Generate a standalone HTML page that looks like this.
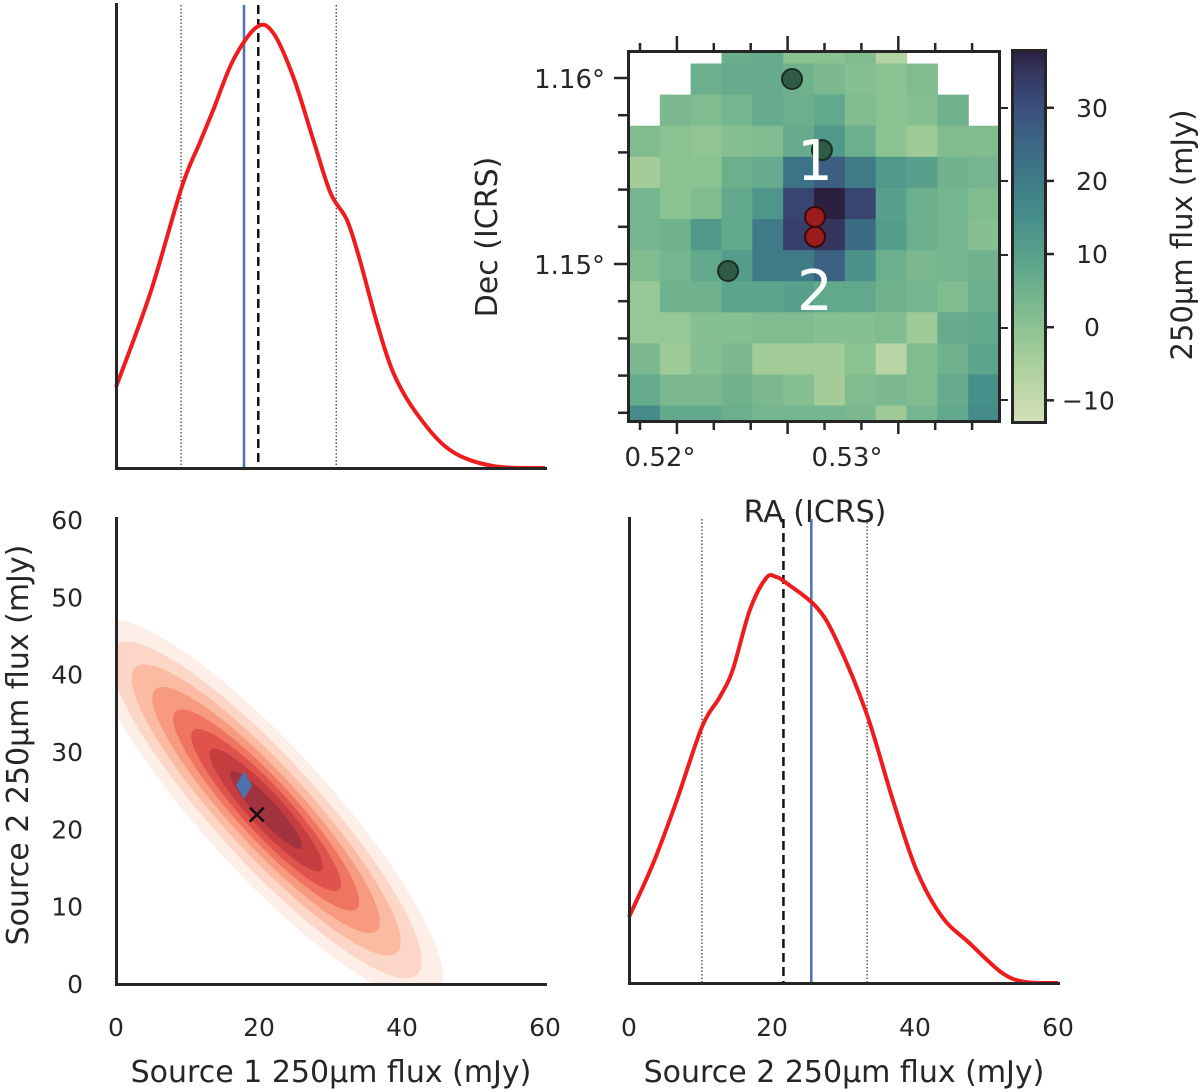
<!DOCTYPE html>
<html><head><meta charset="utf-8"><style>
html,body{margin:0;padding:0;background:#fff;}
svg{display:block;font-family:"DejaVu Sans","Liberation Sans",sans-serif;}
</style></head><body>
<svg id="fig" width="1200" height="1092" viewBox="0 0 1200 1092" xmlns="http://www.w3.org/2000/svg">
<defs>
<clipPath id="mapclip"><rect x="629" y="52" width="370" height="369"/></clipPath>
<clipPath id="kdeclip"><rect x="117" y="519" width="430" height="464"/></clipPath>
<linearGradient id="cbgrad" x1="0" y1="1" x2="0" y2="0">
<stop offset="0" stop-color="#d4e0b8"/><stop offset="0.16" stop-color="#a9cf9b"/><stop offset="0.255" stop-color="#8cc292"/><stop offset="0.35" stop-color="#71b38e"/><stop offset="0.45" stop-color="#58a18b"/><stop offset="0.55" stop-color="#478f8a"/><stop offset="0.65" stop-color="#3e7b87"/><stop offset="0.75" stop-color="#3c6684"/><stop offset="0.85" stop-color="#3b4f7c"/><stop offset="0.94" stop-color="#35365f"/><stop offset="1" stop-color="#2c1f3f"/>
</linearGradient>
</defs>
<g id="g-top"></g>
<g id="g-map"></g>
<g id="g-kde"></g>
<g id="g-br"></g>
</svg>
<script>
// ---- data ----
const s1X = [0, 4.8, 9.2, 11.7, 13.6, 16.4, 19.7, 22, 24.8, 27.6, 30, 32.3, 34.1, 36.5, 38.8, 42, 46.7, 52.7, 60];
const s1Density = [81, 175, 281, 325, 358, 408, 441, 435, 391, 328, 275, 248, 208, 145, 95, 55, 18, 2, 0];
const s1Lines = {truth: 17.9, median: 19.9, lo: 9.1, hi: 30.8};
const s2X = [0, 3.4, 6.7, 10.2, 12.7, 14.5, 16.9, 19.2, 20.6, 22, 26.2, 29, 33.2, 36.9, 40.2, 43.8, 47.6, 52.2, 55.5, 60];
const s2Density = [66, 120, 183, 256, 286, 313, 373, 405, 406, 400, 376, 343, 270, 183, 113, 66, 40, 10, 1, 0];
const s2Lines = {truth: 25.5, median: 21.6, lo: 10.2, hi: 33.3};
const fluxTicks = [0, 20, 40, 60];
const yTicks = [0, 10, 20, 30, 40, 50, 60];
const kdeCenter = [21, 22.5];
const kdeSemiMajor = [34, 30, 26, 22, 18, 14.5, 11, 7];
const kdeSemiMinor = [8.5, 7, 5.8, 4.8, 3.9, 3.1, 2.3, 1.4];
const kdeColors = ['#fdeee8', '#fcd7c7', '#fbbba3', '#f79a80', '#f07561', '#e0534c', '#c63d40', '#a2323d'];
const truthPt = [17.9, 25.7];
const medianPt = [19.7, 21.9];
const N = null;
const mapValues = [
 [N,N,N,6,7,0,0,2,-7,N,N,N],
 [N,N,6,7,7,5,3,1,0,2,N,N],
 [N,3,2,4,7,6,8,2,0,1,5,N],
 [2,0,-1,1,2,7,12,6,0,-3,2,2],
 [-4,0,0,6,7,22,27,20,12,10,5,4],
 [4,0,2,8,13,32,38,32,10,6,4,2],
 [4,5,12,8,20,33,35,24,11,6,4,1],
 [2,4,8,11,20,20,26,14,6,3,4,5],
 [-2,5,5,9,9,10,8,8,5,4,2,6],
 [-2,-2,1,1,2,2,1,1,2,-3,7,8],
 [3,-3,1,3,-4,-4,-4,0,-8,2,5,9],
 [7,3,3,5,3,1,-4,2,3,2,7,15],
 [16,8,8,6,4,4,4,3,-3,4,8,16]
];
const cbTicks = [-10, 0, 10, 20, 30];
const decTicks = [1.15, 1.16];
const raTicks = [0.52, 0.53];
const priorSrc = [[0.52706, 1.1600], [0.52364, 1.14968], [0.52866, 1.15618]];
const fitSrc = [[0.52829, 1.15258], [0.52829, 1.15151]];

const NS = 'http://www.w3.org/2000/svg';
function mk(parent, tag, attrs, text){const e=document.createElementNS(NS,tag);for(const k in attrs)e.setAttribute(k,attrs[k]);if(text!==undefined)e.textContent=text;parent.appendChild(e);return e;}
const INK = '#262626';

// ---- top-left panel ----
const gT = document.getElementById('g-top');
const tx = v => 116 + v * (545 - 116) / 60;
const ty = d => 468 - d;
function dens(g, xs, ds, X, Y, name){
  const pts = xs.map((x,i)=>[X(x), Y(ds[i])]);
  let p = 'M' + pts[0][0] + ',' + pts[0][1];
  for (let i=0;i<pts.length-1;i++){
    const p0=pts[Math.max(0,i-1)], p1=pts[i], p2=pts[i+1], p3=pts[Math.min(pts.length-1,i+2)];
    const c1=[p1[0]+(p2[0]-p0[0])/6, p1[1]+(p2[1]-p0[1])/6];
    const c2=[p2[0]-(p3[0]-p1[0])/6, p2[1]-(p3[1]-p1[1])/6];
    p += ' C'+c1[0]+','+c1[1]+' '+c2[0]+','+c2[1]+' '+p2[0]+','+p2[1];
  }
  const e = mk(g,'path',{d:p,fill:'none',stroke:'#ee1c1c','stroke-width':4});
  
  
}
function vlines(g, L, X, top, bot, pre){
  let e;
  e = mk(g,'line',{x1:X(L.lo),x2:X(L.lo),y1:top,y2:bot,stroke:'#333','stroke-width':1.2,'stroke-dasharray':'1.5,2'});
   
  e = mk(g,'line',{x1:X(L.hi),x2:X(L.hi),y1:top,y2:bot,stroke:'#333','stroke-width':1.2,'stroke-dasharray':'1.5,2'});
   
  e = mk(g,'line',{x1:X(L.truth),x2:X(L.truth),y1:top,y2:bot,stroke:'#4c72b0','stroke-width':2.5});
   
  e = mk(g,'line',{x1:X(L.median),x2:X(L.median),y1:top,y2:bot,stroke:'#111','stroke-width':2.5,'stroke-dasharray':'9,5'});
   
}
vlines(gT, s1Lines, tx, 5, 468, 'source1');
dens(gT, s1X, s1Density, tx, ty, 'source1-posterior-curve');
let sp;
sp = mk(gT,'path',{d:'M116.5,3 V468.5 H547',fill:'none',stroke:INK,'stroke-width':3});
 

// ---- bottom-right panel ----
const gB = document.getElementById('g-br');
const bx = v => 629 + v * (1058 - 629) / 60;
const by = d => 983 - d;
vlines(gB, s2Lines, bx, 519, 983, 'source2');
dens(gB, s2X, s2Density, bx, by, 'source2-posterior-curve');
sp = mk(gB,'path',{d:'M629.5,517 V983.5 H1060',fill:'none',stroke:INK,'stroke-width':3});
 
fluxTicks.forEach(t=>{
  const e = mk(gB,'text',{x:bx(t),y:1036,'text-anchor':'middle','font-size':25,fill:INK},String(t));
   
});
let lab = mk(gB,'text',{x:844,y:1082,'text-anchor':'middle','font-size':30,fill:INK},'Source 2 250μm flux (mJy)');
 

// ---- bottom-left KDE ----
const gK = document.getElementById('g-kde');
const kx = v => 116 + v * (545 - 116) / 60;
const ky = v => 984 - v * (984 - 520) / 60;
const kc = mk(gK,'g',{'clip-path':'url(#kdeclip)'});
kdeSemiMajor.forEach((a,i)=>{
  const b = kdeSemiMinor[i];
  const u=[Math.SQRT1_2,-Math.SQRT1_2], w=[Math.SQRT1_2,Math.SQRT1_2];
  let d='';
  for(let k=0;k<=72;k++){const t=k/72*2*Math.PI;const dx=a*Math.cos(t)*u[0]+b*Math.sin(t)*w[0];const dy=a*Math.cos(t)*u[1]+b*Math.sin(t)*w[1];d+=(k?'L':'M')+kx(kdeCenter[0]+dx).toFixed(1)+','+ky(kdeCenter[1]+dy).toFixed(1);}
  const e = mk(kc,'path',{d:d+'Z',fill:kdeColors[i]});
  
  
});
let dm = mk(gK,'path',{d:`M${kx(truthPt[0])},${ky(truthPt[1])-14} l8,14 l-8,14 l-8,-14 Z`,fill:'#4c72b0'});
 
let xm = mk(gK,'path',{d:`M${kx(medianPt[0])-7},${ky(medianPt[1])-7} l14,14 M${kx(medianPt[0])+7},${ky(medianPt[1])-7} l-14,14`,stroke:'#111','stroke-width':2.5});
 
sp = mk(gK,'path',{d:'M116.5,517 V984.5 H547',fill:'none',stroke:INK,'stroke-width':3});
 
fluxTicks.forEach(t=>{
  const e = mk(gK,'text',{x:kx(t),y:1036,'text-anchor':'middle','font-size':25,fill:INK},String(t));
   
});
yTicks.forEach(t=>{
  const e = mk(gK,'text',{x:83,y:ky(t)+9,'text-anchor':'end','font-size':25,fill:INK},String(t));
   
});
lab = mk(gK,'text',{x:331,y:1082,'text-anchor':'middle','font-size':30,fill:INK},'Source 1 250μm flux (mJy)');
 
lab = mk(gK,'text',{x:0,y:0,'text-anchor':'middle','font-size':30,fill:INK,transform:'translate(28,745) rotate(-90)'},'Source 2 250μm flux (mJy)');
 

// ---- map ----
const gM = document.getElementById('g-map');
const vmin=-13.1, vmax=37.9;
const cstops=[[0,[212,224,184]],[0.16,[169,207,155]],[0.255,[140,194,146]],[0.35,[113,179,142]],[0.45,[88,161,139]],[0.55,[71,143,138]],[0.65,[62,123,135]],[0.75,[60,102,132]],[0.85,[59,79,124]],[0.94,[53,54,95]],[1,[44,31,63]]];
function cmap(v){let t=Math.max(0,Math.min(1,(v-vmin)/(vmax-vmin)));for(let i=0;i<cstops.length-1;i++){const a=cstops[i],b=cstops[i+1];if(t<=b[0]){const f=(t-a[0])/(b[0]-a[0]);const c=a[1].map((x,j)=>Math.round(x+(b[1][j]-x)*f));return 'rgb('+c.join(',')+')';}}return 'rgb(44,31,63)';}
const cellW = 370/12, cellH = 31.1;
const colX = c => 629 + c*cellW;
const rowY = r => 63.5 + (r-1)*cellH;
const mc = mk(gM,'g',{'clip-path':'url(#mapclip)'});
mapValues.forEach((row,r)=>row.forEach((v,c)=>{
  if(v===null) return;
  const e = mk(mc,'rect',{x:colX(c).toFixed(2),y:rowY(r).toFixed(2),width:(cellW+0.6).toFixed(2),height:(cellH+0.6).toFixed(2),fill:cmap(v)});
  
  
}));
const raX = ra => 660 + (ra-0.52)*(847-660)/0.01;
const decY = de => 265 - (de-1.15)*(265-79)/0.01;
priorSrc.forEach(p=>{
  const e = mk(gM,'circle',{cx:raX(p[0]),cy:decY(p[1]),r:10,fill:'#2f5a45',stroke:'#1b2e24','stroke-width':2});
   
});
fitSrc.forEach(p=>{
  const e = mk(gM,'circle',{cx:raX(p[0]),cy:decY(p[1]),r:10,fill:'#9b1c1c',stroke:'#3a0a0a','stroke-width':2});
   
});
let l1 = mk(gM,'text',{x:815,y:180,'text-anchor':'middle','font-size':56,fill:'#fff'},'1');
 
let l2 = mk(gM,'text',{x:815,y:310,'text-anchor':'middle','font-size':56,fill:'#fff'},'2');
 
let fr = mk(gM,'rect',{x:628.5,y:51.5,width:371,height:370,fill:'none',stroke:INK,'stroke-width':3});
 
for(let i=0;i<10;i++){
  const x = 640 + i*36.9;
  mk(gM,'line',{x1:x,x2:x,y1:51,y2:i%3===1?36:43,stroke:INK,'stroke-width':2.5});
  mk(gM,'line',{x1:x,x2:x,y1:421,y2:i%3===1?434:430,stroke:INK,'stroke-width':2.5});
}
for(let i=0;i<10;i++){
  const y = 78 + i*37.2;
  mk(gM,'line',{x1:628,x2:i%5===0?614:618,y1:y,y2:y,stroke:INK,'stroke-width':2.5});
}
[108,181,255,328,400].forEach(y=>mk(gM,'line',{x1:1000,x2:1008,y1:y,y2:y,stroke:INK,'stroke-width':2}));
decTicks.forEach(d=>{
  const e = mk(gM,'text',{x:605,y:decY(d)+9,'text-anchor':'end','font-size':26,fill:INK},d.toFixed(2)+'°');
   
});
raTicks.forEach(d=>{
  const e = mk(gM,'text',{x:raX(d),y:466,'text-anchor':'middle','font-size':26,fill:INK},d.toFixed(2)+'°');
   
});
lab = mk(gM,'text',{x:815,y:522,'text-anchor':'middle','font-size':30,fill:INK},'RA (ICRS)');
 
lab = mk(gM,'text',{x:0,y:0,'text-anchor':'middle','font-size':30,fill:INK,transform:'translate(497,237) rotate(-90)'},'Dec (ICRS)');
 
const cbY = v => 423 - (v - vmin) * (423-50)/(vmax-vmin);
let cb = mk(gM,'rect',{x:1012.5,y:50.5,width:33,height:372,fill:'url(#cbgrad)',stroke:INK,'stroke-width':3});
 
cbTicks.forEach(t=>{
  mk(gM,'line',{x1:1046,x2:1054,y1:cbY(t),y2:cbY(t),stroke:INK,'stroke-width':2.5});
  const e = mk(gM,'text',{x:t<0?1062:1092,y:cbY(t)+9,'text-anchor':t<0?'start':'middle','font-size':25,fill:INK},t<0?'−'+Math.abs(t):String(t));
   
});
lab = mk(gM,'text',{x:0,y:0,'text-anchor':'middle','font-size':29,fill:INK,transform:'translate(1192,235) rotate(-90)','xml:space':'preserve'},'250μm flux  (mJy)');
 
</script>
</body></html>
